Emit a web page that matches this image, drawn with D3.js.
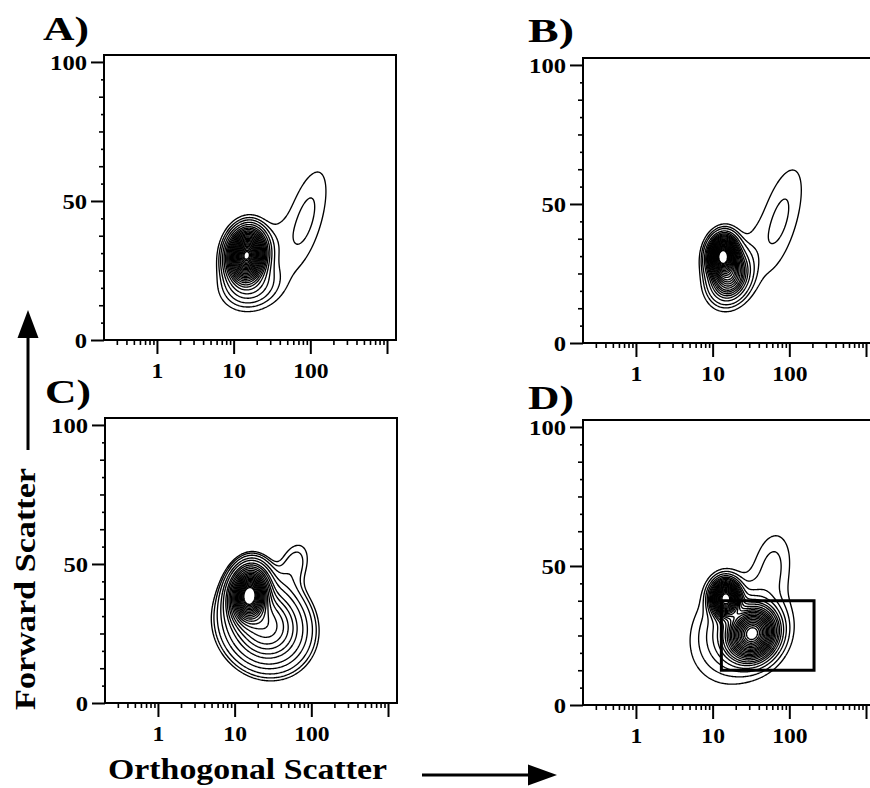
<!DOCTYPE html>
<html><head><meta charset="utf-8">
<script src="https://cdn.jsdelivr.net/npm/d3@7"></script>
<style>body{margin:0;background:#fff}svg{display:block}</style>
</head><body>
<svg id="chart" width="870" height="788"></svg>
<script>
// ---------- data ----------
const panelLabels = ["A)", "B)", "C)", "D)"];
const xTitle = "Orthogonal Scatter";
const yTitle = "Forward Scatter";
const xMajorTicks = [1, 10, 100, 1000];
const xTickLabels = ["1", "10", "100", ""];
const xMinorTicks = [0.3,0.4,0.5,0.6,0.7,0.8,0.9, 2,3,4,5,6,7,8,9, 20,30,40,50,60,70,80,90, 200,300,400,500,600,700,800,900];
const yMajorTicks = [0, 50, 100];
const yMidTicks = [12.5, 25, 37.5, 62.5, 75, 87.5];
const yMinorTicks = [6.25, 18.75, 31.25, 43.75, 56.25, 68.75, 81.25, 93.75];
const xDomain = [0.204, 1310];
const yDomain = [0, 102.5];

// population components: [log10 center x, center y, sd log10 x, sd y, correlation, weight]
const compA = [
  [1.17, 30.5, 0.13, 4.9, 0.1, 1.0],
  [1.22, 20.0, 0.21, 5.0, 0.1, 0.08],
  [1.55, 36.0, 0.12, 7.0, 0.2, 0.01],
  [1.93, 43.0, 0.22, 14.0, 0.6, 0.026]
];
const compB = [
  [1.13, 31.5, 0.10, 3.8, 0.1, 1.0],
  [1.22, 24.5, 0.14, 5.0, 0.15, 0.4],
  [1.50, 35.0, 0.12, 7.0, 0.2, 0.008],
  [1.87, 44.0, 0.22, 14.0, 0.6, 0.028]
];
const compC = [
  [1.19, 39.0, 0.13, 5.2, 0.1, 1.0],
  [1.40, 28.0, 0.28, 8.0, -0.1, 0.30],
  [1.78, 50.0, 0.16, 6.5, 0.3, 0.022]
];
const compD = [
  [1.17, 38.3, 0.10, 3.5, 0.0, 1.0],
  [1.52, 25.6, 0.17, 5.0, 0.1, 0.9],
  [1.35, 27.0, 0.30, 9.0, 0.2, 0.12],
  [1.78, 50.0, 0.16, 8.0, 0.2, 0.03]
];
const levelsA = [0.012, 0.022, 0.035, 0.055, 0.08, 0.11, 0.14, 0.17, 0.205, 0.24, 0.28, 0.32, 0.365, 0.41, 0.46, 0.51, 0.56, 0.61, 0.66, 0.71, 0.76, 0.81, 0.86, 0.9, 0.94, 0.97];
const levelsB = [0.012, 0.024, 0.04, 0.07, 0.1, 0.13, 0.16, 0.19, 0.22, 0.26, 0.3, 0.34, 0.38, 0.42, 0.47, 0.52, 0.57, 0.62, 0.67, 0.72, 0.77, 0.82, 0.87, 0.92, 0.96];
const levelsC = [0.013, 0.018, 0.027, 0.044, 0.065, 0.1, 0.13, 0.17, 0.21, 0.26, 0.31, 0.36, 0.41, 0.46, 0.51, 0.56, 0.61, 0.66, 0.71, 0.76, 0.81, 0.86, 0.91, 0.95];
const levelsD = [0.012, 0.025, 0.045, 0.07, 0.1, 0.13, 0.16, 0.2, 0.24, 0.28, 0.32, 0.36, 0.41, 0.46, 0.51, 0.56, 0.62, 0.68, 0.74, 0.8, 0.86, 0.92];
const gateX = [13, 210];
const gateY = [12.5, 37.5];

// ---------- layout ----------
const W = 292, H = 285;
const FONT = "'Liberation Serif','Times New Roman',serif";
const panels = [
  {label: panelLabels[0], comps: compA, levels: levelsA, left: 104, top: 55, lx: 43, ly: 40},
  {label: panelLabels[1], comps: compB, levels: levelsB, left: 583, top: 58, lx: 528, ly: 42},
  {label: panelLabels[2], comps: compC, levels: levelsC, left: 105, top: 418, lx: 45, ly: 403},
  {label: panelLabels[3], comps: compD, levels: levelsD, left: 583, top: 420, lx: 528, ly: 409, gate: true}
];

const svg = d3.select("#chart");
const x = d3.scaleLog().domain(xDomain).range([0, W]);
const y = d3.scaleLinear().domain(yDomain).range([H, 0]);

function density(u, v, comps) {
  let s = 0;
  for (const [u0, v0, su, sv, rho, w] of comps) {
    const a = (u - u0) / su, b = (v - v0) / sv;
    const q = (a * a - 2 * rho * a * b + b * b) / (1 - rho * rho);
    s += w * Math.exp(-q / 2);
  }
  return s;
}

panels.forEach((p, idx) => {
  const g = svg.append("g").attr("transform", `translate(${p.left},${p.top})`);
  const clipId = "clip" + idx;
  g.append("clipPath").attr("id", clipId).append("rect").attr("width", W).attr("height", H);

  const nx = W, ny = H;
  const values = new Float64Array(nx * ny);
  for (let j = 0; j < ny; j++) {
    const v = y.invert(j + 0.5);
    for (let i = 0; i < nx; i++) {
      const u = Math.log10(x.invert(i + 0.5));
      values[j * nx + i] = density(u, v, p.comps);
    }
  }
  const contours = d3.contours().size([nx, ny]).thresholds(p.levels)(values);
  g.append("g").attr("clip-path", `url(#${clipId})`)
    .selectAll("path").data(contours).join("path")
    .attr("d", d3.geoPath())
    .attr("fill", "none").attr("stroke", "#000").attr("stroke-width", 1.35)
    .attr("stroke-linejoin", "round");

  if (p.gate) {
    g.append("rect")
      .attr("x", x(gateX[0])).attr("y", y(gateY[1]))
      .attr("width", x(gateX[1]) - x(gateX[0])).attr("height", y(gateY[0]) - y(gateY[1]))
      .attr("fill", "none").attr("stroke", "#000").attr("stroke-width", 3);
  }

  g.append("rect").attr("width", W).attr("height", H)
    .attr("fill", "none").attr("stroke", "#000").attr("stroke-width", 2);

  const yMaj = g.append("g").call(d3.axisLeft(y).tickValues(yMajorTicks).tickSize(13).tickPadding(4));
  g.append("g").call(d3.axisLeft(y).tickValues(yMidTicks).tickSize(5).tickFormat(""));
  g.append("g").call(d3.axisLeft(y).tickValues(yMinorTicks).tickSize(3).tickFormat(""));
  const xMaj = g.append("g").attr("transform", `translate(0,${H})`)
    .call(d3.axisBottom(x).tickValues(xMajorTicks).tickSize(14).tickFormat((d, i) => xTickLabels[i]));
  g.append("g").attr("transform", `translate(0,${H})`)
    .call(d3.axisBottom(x).tickValues(xMinorTicks).tickSize(5).tickFormat(""));

  g.selectAll(".domain").remove();
  g.selectAll(".tick line").attr("stroke", "#000").attr("stroke-width", 1.6);
  yMaj.selectAll(".tick line").attr("stroke-width", 2);
  xMaj.selectAll(".tick line").attr("stroke-width", 2);

  yMaj.selectAll("text")
    .attr("font-family", FONT).attr("font-size", 21).attr("font-weight", "bold").attr("fill", "#000")
    .attr("x", -17).attr("dy", "0.34em")
    .attr("textLength", function() { return this.textContent.length * 12.3; })
    .attr("lengthAdjust", "spacingAndGlyphs");
  xMaj.selectAll("text")
    .attr("font-family", FONT).attr("font-size", 21).attr("font-weight", "bold").attr("fill", "#000")
    .attr("y", 38).attr("dy", 0)
    .attr("textLength", function() { return this.textContent.length * 11.8; })
    .attr("lengthAdjust", "spacingAndGlyphs");

  svg.append("text").text(p.label)
    .attr("x", p.lx).attr("y", p.ly)
    .attr("font-family", FONT).attr("font-size", 34).attr("font-weight", "bold")
    .attr("textLength", 46).attr("lengthAdjust", "spacingAndGlyphs");
});

svg.append("text").text(xTitle)
  .attr("x", 108).attr("y", 779)
  .attr("font-family", FONT).attr("font-size", 30).attr("font-weight", "bold")
  .attr("textLength", 279).attr("lengthAdjust", "spacingAndGlyphs");
svg.append("text").text(yTitle)
  .attr("transform", "translate(35,710) rotate(-90)")
  .attr("font-family", FONT).attr("font-size", 30).attr("font-weight", "bold")
  .attr("textLength", 242).attr("lengthAdjust", "spacingAndGlyphs");

svg.append("line").attr("x1", 28).attr("x2", 28).attr("y1", 450).attr("y2", 334)
  .attr("stroke", "#000").attr("stroke-width", 3);
svg.append("path").attr("d", "M28,310 L17.5,338 L38.5,338 Z").attr("fill", "#000");
svg.append("line").attr("x1", 422).attr("x2", 532).attr("y1", 775).attr("y2", 775)
  .attr("stroke", "#000").attr("stroke-width", 3);
svg.append("path").attr("d", "M557,775 L528,764.5 L528,785.5 Z").attr("fill", "#000");
</script>
</body></html>
